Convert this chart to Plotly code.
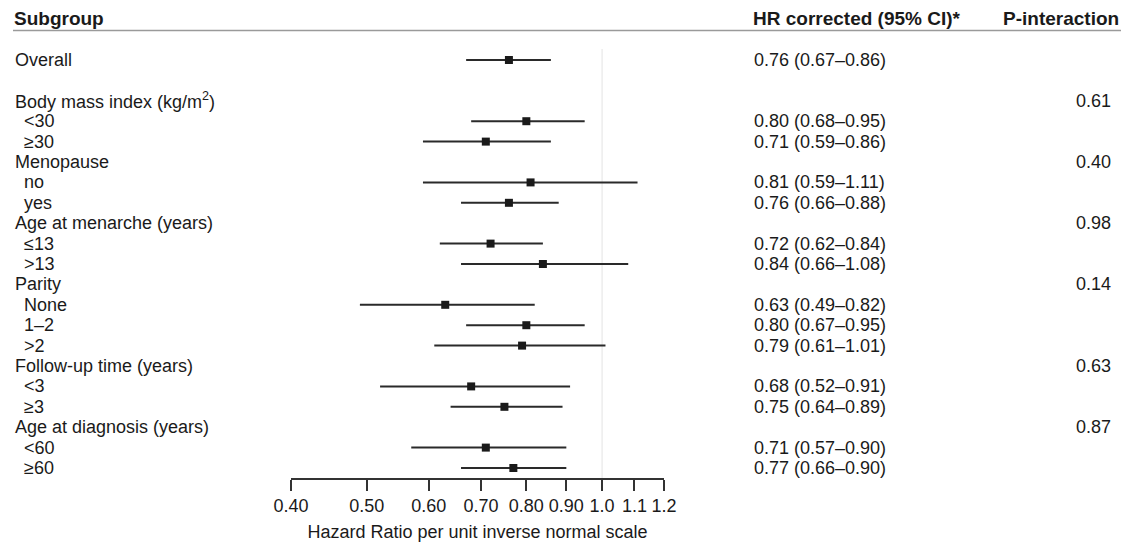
import plotly.graph_objects as go

W, H = 1139, 542

labels = ["Overall", "", "Body mass index (kg/m<sup>2</sup>)", "&lt;30", "≥30",
          "Menopause", "no", "yes", "Age at menarche (years)", "≤13", "&gt;13",
          "Parity", "None", "1–2", "&gt;2", "Follow-up time (years)", "&lt;3", "≥3",
          "Age at diagnosis (years)", "&lt;60", "≥60"]
indent = [0, 0, 0, 1, 1, 0, 1, 1, 0, 1, 1, 0, 1, 1, 1, 0, 1, 1, 0, 1, 1]
hr = [0.76, None, None, 0.80, 0.71, None, 0.81, 0.76, None, 0.72, 0.84,
      None, 0.63, 0.80, 0.79, None, 0.68, 0.75, None, 0.71, 0.77]
lo = [0.67, None, None, 0.68, 0.59, None, 0.59, 0.66, None, 0.62, 0.66,
      None, 0.49, 0.67, 0.61, None, 0.52, 0.64, None, 0.57, 0.66]
hi = [0.86, None, None, 0.95, 0.86, None, 1.11, 0.88, None, 0.84, 1.08,
      None, 0.82, 0.95, 1.01, None, 0.91, 0.89, None, 0.90, 0.90]
p_int = [None, None, "0.61", None, None, "0.40", None, None, "0.98", None, None,
         "0.14", None, None, None, "0.63", None, None, "0.87", None, None]
tick_vals = [0.40, 0.50, 0.60, 0.70, 0.80, 0.90, 1.0, 1.1, 1.2]
tick_text = ["0.40", "0.50", "0.60", "0.70", "0.80", "0.90", "1.0", "1.1", "1.2"]

FONT = "Arial, Liberation Sans, Helvetica, sans-serif"
INK = "#1a1a1a"
BODY = 18
HEAD = 19

rows = list(range(len(labels)))
pts_y = [r for r, v in zip(rows, hr) if v is not None]
pts_x = [v for v in hr if v is not None]
err_p = [h - v for v, h in zip(hr, hi) if v is not None]
err_m = [v - l for v, l in zip(hr, lo) if v is not None]

fig = go.Figure()
fig.add_trace(go.Scatter(
    x=pts_x, y=pts_y, mode="markers",
    marker=dict(symbol="square", size=8, color=INK),
    error_x=dict(type="data", symmetric=False, array=err_p, arrayminus=err_m,
                 width=0, thickness=2, color="#2a2a2a"),
    showlegend=False, hoverinfo="skip"))

ann = []
for r, lab, ind in zip(rows, labels, indent):
    if lab:
        ann.append(dict(x=(22 if ind else 13) / W, y=r, xref="paper", yref="y",
                        text=lab, showarrow=False, xanchor="left", yanchor="middle",
                        font=dict(size=BODY, color=INK, family=FONT)))
for r, v, l, h in zip(rows, hr, lo, hi):
    if v is not None:
        ann.append(dict(x=752 / W, y=r, xref="paper", yref="y",
                        text=f"{v:.2f} ({l:.2f}–{h:.2f})", showarrow=False,
                        xanchor="left", yanchor="middle",
                        font=dict(size=BODY, color=INK, family=FONT)))
for r, p in zip(rows, p_int):
    if p:
        ann.append(dict(x=1113 / W, y=r, xref="paper", yref="y", text=p,
                        showarrow=False, xanchor="right", yanchor="middle",
                        font=dict(size=BODY, color=INK, family=FONT)))

hdr_y = 1 - 19 / H
ann.append(dict(x=12 / W, y=hdr_y, xref="paper", yref="paper", text="<b>Subgroup</b>",
                showarrow=False, xanchor="left", yanchor="middle",
                font=dict(size=HEAD, color=INK, family=FONT)))
ann.append(dict(x=751 / W, y=hdr_y, xref="paper", yref="paper",
                text="<b>HR corrected (95% CI)*</b>", showarrow=False,
                xanchor="left", yanchor="middle",
                font=dict(size=HEAD, color=INK, family=FONT)))
ann.append(dict(x=1121 / W, y=hdr_y, xref="paper", yref="paper",
                text="<b>P-interaction</b>", showarrow=False,
                xanchor="right", yanchor="middle",
                font=dict(size=HEAD, color=INK, family=FONT)))

shapes = [
    dict(type="line", xref="paper", yref="paper", x0=13 / W, x1=1121 / W,
         y0=1 - 30.5 / H, y1=1 - 30.5 / H, line=dict(color="#9a9a9a", width=1.5)),
    dict(type="line", xref="x", yref="y domain", x0=1.0, x1=1.0, y0=0, y1=1,
         line=dict(color="#e8e8e8", width=1.2), layer="below"),
]

fig.update_layout(
    width=W, height=H, margin=dict(l=0, r=0, t=0, b=0, autoexpand=False),
    paper_bgcolor="white", plot_bgcolor="white",
    annotations=ann, shapes=shapes,
    xaxis=dict(type="log", domain=[291 / W, 664 / W],
               range=[-0.39794, 0.07918], tickvals=tick_vals, ticktext=tick_text,
               ticks="outside", ticklen=11, tickwidth=1.5, tickcolor="#333",
               showline=True, linewidth=1.5, linecolor="#333",
               showgrid=False, zeroline=False, automargin=False,
               tickfont=dict(size=BODY, color=INK, family=FONT),
               title=dict(text="Hazard Ratio per unit inverse normal scale",
                          font=dict(size=BODY, color=INK, family=FONT), standoff=10)),
    yaxis=dict(domain=[1 - 478 / H, 1 - 49 / H], range=[20.49, -0.54],
               visible=False, showgrid=False, zeroline=False),
    font=dict(family=FONT),
)

fig.write_html("out.html", config={"displayModeBar": False},
               post_script="document.body.style.margin='0';document.body.style.overflow='hidden';")
